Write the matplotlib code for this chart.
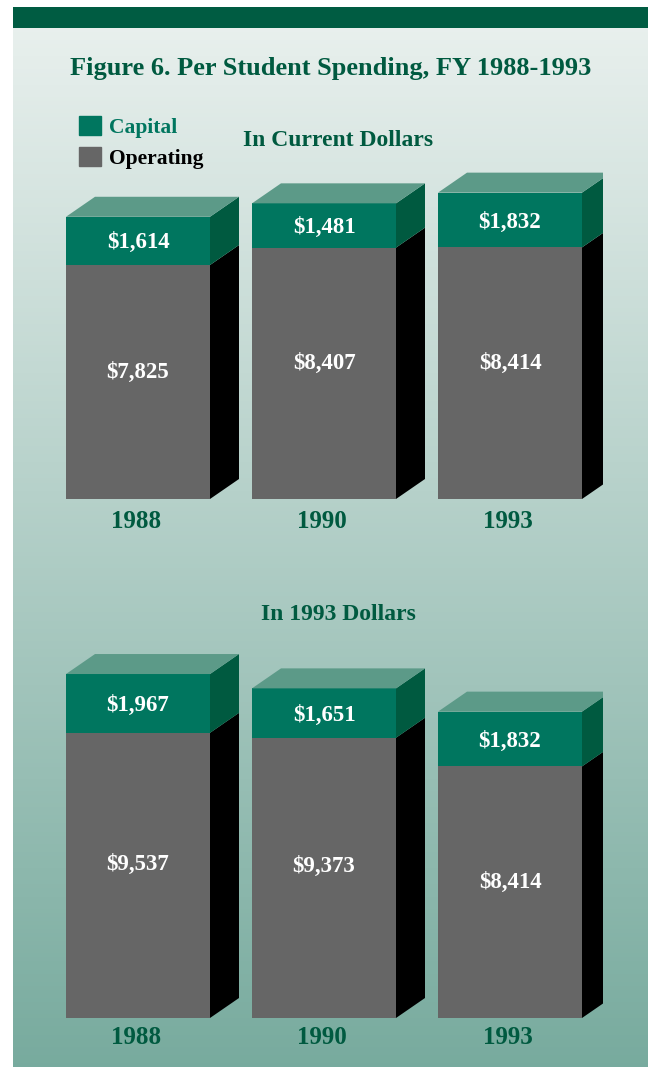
import numpy as np
import matplotlib
matplotlib.use("Agg")
import matplotlib.pyplot as plt
from matplotlib.patches import Polygon, Rectangle, Patch

plt.rcParams['font.family'] = ['Liberation Serif', 'DejaVu Serif']

# data
years = ['1988', '1990', '1993']
current_operating = [7825, 8407, 8414]
current_capital = [1614, 1481, 1832]
constant_operating = [9537, 9373, 8414]
constant_capital = [1967, 1651, 1832]

GREEN = '#00765f'
GREEN_TOP = '#5c9a88'
GREEN_SIDE = '#005a40'
GRAY = '#666666'
DARK = '#005a40'

W, H = 648, 1067
fig = plt.figure(figsize=(W / 100, H / 100), dpi=100)

# background: white margin, dark band, vertical gradient
bg = fig.add_axes([0, 0, 1, 1], zorder=-1)
bg.axis('off')
top_c = np.array([0.91, 0.94, 0.93])
bot_c = np.array([0.47, 0.67, 0.62])
t = np.linspace(0, 1, 256)[:, None, None]
grad = top_c * (1 - t) + bot_c * t
bg.imshow(grad, extent=[13, W, H, 28], aspect='auto')
bg.add_patch(Rectangle((13, 7), W - 13, 21, color='#005c42', lw=0))
bg.set_xlim(0, W)
bg.set_ylim(H, 0)

fig.text(331 / W, 1 - 68 / H, 'Figure 6. Per Student Spending, FY 1988-1993',
         ha='center', va='center', fontsize=19, fontweight='bold', color=DARK)

# px per dollar = 0.0299, px per x unit = 186
scale = 0.0299
ax_h = 400
width = 144 / 186
dx = 29 / 186
dy = 20 / scale


def panel(bottom_px, operating, capital, subtitle, sub_y, year_dy):
    ax = fig.add_axes([45 / W, 1 - bottom_px / H, 558 / W, ax_h / H])
    ax.set_xlim(-0.5, 2.5)
    ax.set_ylim(0, ax_h / scale)
    ax.axis('off')
    x = np.arange(len(years))
    ax.bar(x, operating, width=width, color=GRAY, lw=0)
    ax.bar(x, capital, width=width, bottom=operating, color=GREEN, lw=0)
    for i in range(len(years)):
        op = operating[i]
        tot = op + capital[i]
        r = x[i] + width / 2
        l = x[i] - width / 2
        ax.add_patch(Polygon([(r, 0), (r + dx, dy), (r + dx, op + dy), (r, op)],
                             closed=True, color='black', lw=0))
        ax.add_patch(Polygon([(r, op), (r + dx, op + dy), (r + dx, tot + dy), (r, tot)],
                             closed=True, color=GREEN_SIDE, lw=0))
        ax.add_patch(Polygon([(l, tot), (r, tot), (r + dx, tot + dy), (l + dx, tot + dy)],
                             closed=True, color=GREEN_TOP, lw=0))
        ax.annotate(f'${capital[i]:,}', (x[i], op + capital[i] / 2), xytext=(0, -2),
                    textcoords='offset pixels', ha='center', va='center',
                    color='white', fontsize=16.5, fontweight='bold')
        ax.text(x[i], op * 0.54, f'${op:,}', ha='center', va='center',
                color='white', fontsize=16.5, fontweight='bold')
        ax.annotate(years[i], (x[i], 0), xytext=(-2, -year_dy), textcoords='offset pixels',
                    ha='center', va='center', color=DARK, fontsize=18, fontweight='bold')
    fig.text(338 / W, 1 - sub_y / H, subtitle, ha='center', va='center',
             fontsize=17, fontweight='bold', color=DARK)
    return ax


ax1 = panel(499, current_operating, current_capital, 'In Current Dollars', 140, 22)
ax2 = panel(1018, constant_operating, constant_capital, 'In 1993 Dollars', 614, 19)

handles = [Patch(color=GREEN, label='Capital'), Patch(color=GRAY, label='Operating')]
leg = fig.legend(handles=handles, loc='upper left', bbox_to_anchor=(79 / W, 1 - 116 / H),
                 frameon=False, borderpad=0, borderaxespad=0, handlelength=1.0,
                 handleheight=1.0, handletextpad=0.4, labelspacing=0.4,
                 prop={'size': 15.5, 'weight': 'bold'})
leg.get_texts()[0].set_color(GREEN)
leg.get_texts()[1].set_color('black')

fig.savefig('out.png', dpi=100)
